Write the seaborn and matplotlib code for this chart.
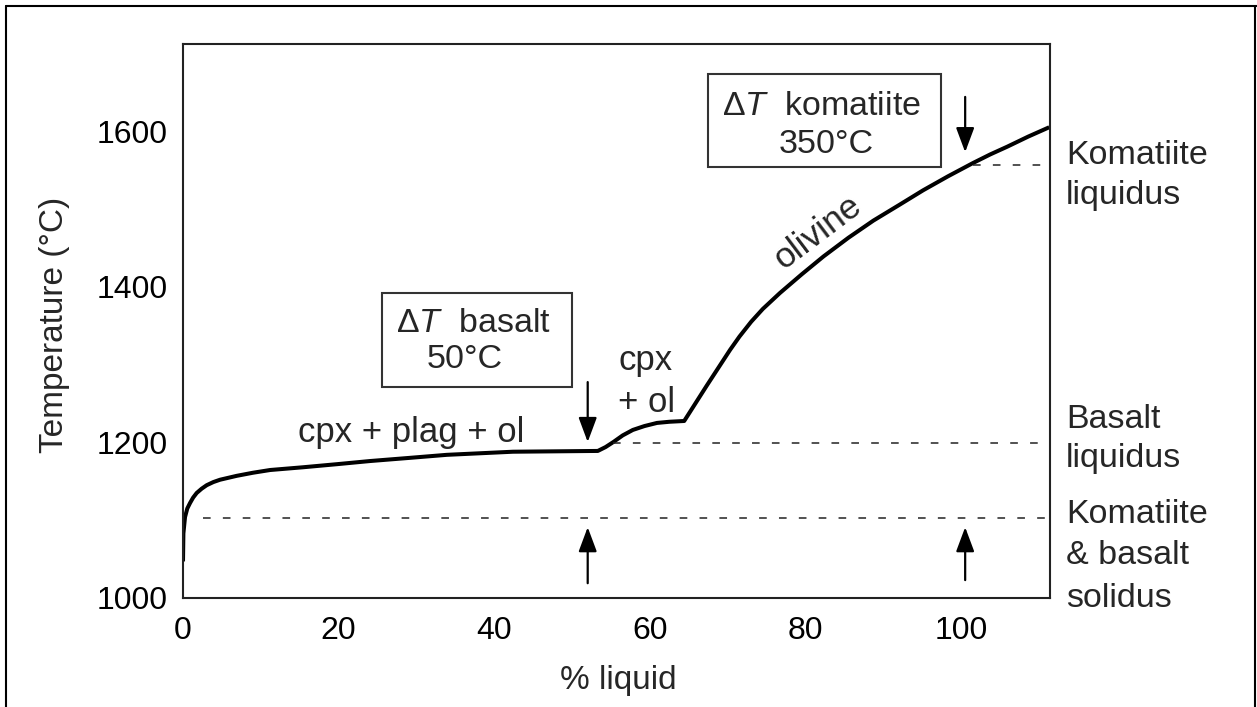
import matplotlib
matplotlib.use("Agg")
import matplotlib.pyplot as plt
import seaborn as sns
import pandas as pd
from matplotlib.patches import Rectangle
from matplotlib.lines import Line2D

# ---- data ----
liquid_pct = [0.0, 0.05, 0.26, 0.55, 0.9, 1.3, 1.76, 2.4, 3.05, 3.9, 4.76, 6.9, 9.0,
              11.2, 15.4, 19.8, 24.0, 29.0, 33.9, 42.4, 53.3, 54.3, 55.3, 56.5, 57.8,
              59.3, 60.9, 62.5, 64.4, 67.3, 70.3, 71.5, 73.0, 74.5, 76.7, 79.5, 82.3,
              85.5, 88.7, 92.0, 95.1, 98.3, 101.5, 103.7, 105.9, 108.6, 111.3]
temperature = [1047, 1083, 1104, 1115, 1122, 1129, 1135, 1140.5, 1145, 1149, 1152, 1157,
               1161, 1164.5, 1168, 1172, 1176, 1180, 1184, 1188, 1189, 1194, 1200.5, 1209,
               1216, 1221, 1225, 1226.5, 1227.5, 1273, 1319, 1336, 1355, 1371.5, 1392,
               1416, 1439, 1463, 1485, 1505, 1524, 1542, 1559, 1570, 1580, 1593, 1605]
reference_T = [1103, 1199, 1557]          # solidus, basalt liquidus, komatiite liquidus
reference_start = [2.6, 55.3, 101.5]      # % liquid where each dashed line starts
x_ticks = [0, 20, 40, 60, 80, 100]
y_ticks = [1000, 1200, 1400, 1600]
right_labels = [["Komatiite", "liquidus"], ["Basalt", "liquidus"],
                ["Komatiite", "& basalt", "solidus"]]

sns.set_theme(style="white")
plt.rcParams['font.family'] = ['Liberation Sans', 'DejaVu Sans']
plt.rcParams.update({'mathtext.fontset': 'custom',
                     'mathtext.rm': 'Liberation Sans',
                     'mathtext.it': 'Liberation Sans:italic',
                     'mathtext.bf': 'Liberation Sans:bold'})

W, H = 1257, 707
fig = plt.figure(figsize=(W / 100, H / 100), dpi=100)
fig.patch.set_facecolor('white')
ax = fig.add_axes([183 / W, 1 - 598 / H, 867 / W, 554 / H])

XMAX = 111.4
df = pd.DataFrame({'pct': liquid_pct, 'T': temperature})
sns.lineplot(data=df, x='pct', y='T', color='black', lw=2.9, ax=ax,
             solid_capstyle='butt', solid_joinstyle='round')

for T0, x0 in zip(reference_T, reference_start):
    ax.plot([x0, XMAX], [T0, T0], color='#222222', lw=1.1, dashes=(5, 8))

ax.set_xlim(0, XMAX)
ax.set_ylim(1000, 1712)
ax.set_xticks(x_ticks)
ax.set_yticks(y_ticks)
ax.tick_params(axis='both', direction='in', length=11, width=1.2, colors='black',
               labelsize=23)
ax.tick_params(axis='x', pad=13)
ax.tick_params(axis='y', pad=11)
for s in ax.spines.values():
    s.set_color('#222222')
    s.set_linewidth(1.5)

ax.set_xlabel('% liquid', fontsize=24)
ax.set_ylabel('Temperature (°C)', fontsize=24)
ax.xaxis.label.set_va('center')
ax.yaxis.label.set_va('center')
ax.xaxis.set_label_coords((618 - 183) / 867, (598 - 681) / 554)
ax.yaxis.set_label_coords((55 - 183) / 867, (598 - 325) / 554)

# arrows
arrow_kw = dict(arrowstyle='-|>,head_length=0.75,head_width=0.28', mutation_scale=20,
                lw=1.6, color='black', shrinkA=0, shrinkB=0)
ax.annotate('', xy=(52, 1200.5), xytext=(52, 1277.5), arrowprops=arrow_kw)
ax.annotate('', xy=(52, 1091), xytext=(52, 1019), arrowprops=arrow_kw)
ax.annotate('', xy=(100.5, 1573), xytext=(100.5, 1644), arrowprops=arrow_kw)
ax.annotate('', xy=(100.5, 1091), xytext=(100.5, 1023), arrowprops=arrow_kw)

# boxes
ax.add_patch(Rectangle((25.6, 1271.1), 24.4, 120.8, fill=False, lw=1.5,
                       edgecolor='#333333'))
ax.add_patch(Rectangle((67.5, 1553.8), 29.9, 119.5, fill=False, lw=1.5,
                       edgecolor='#333333'))
ax.text(37.3, 1341.8, r'$\Delta T$  basalt', fontsize=24.5, ha='center', va='baseline')
ax.text(36.2, 1295.6, '50°C', fontsize=24.5, ha='center', va='baseline')
ax.text(82.1, 1620.7, r'$\Delta T$  komatiite', fontsize=24.5, ha='center', va='baseline')
ax.text(82.6, 1571.8, '350°C', fontsize=24.5, ha='center', va='baseline')

# phase labels
ax.text(14.8, 1200.5, 'cpx + plag + ol', fontsize=25, ha='left', va='baseline')
ax.text(55.9, 1293, 'cpx', fontsize=25, ha='left', va='baseline')
ax.text(55.9, 1239, '+ ol', fontsize=25, ha='left', va='baseline')
ax.text(81.6, 1470, 'olivine', fontsize=25.5, ha='center', va='center',
        rotation=37, rotation_mode='anchor')

# right-hand labels
baselines_px = [[164, 204], [428, 467], [523, 564, 607]]
for lines, ys in zip(right_labels, baselines_px):
    for txt, ypx in zip(lines, ys):
        fig.text(1066 / W, 1 - ypx / H, txt, fontsize=24.5, ha='left', va='baseline')

# outer frame of the figure
fx = 5.5 / W
fy = 1 - 6 / H
fig.add_artist(Line2D([fx, fx], [0, fy], transform=fig.transFigure, color='black', lw=1.5))
fig.add_artist(Line2D([fx, 1], [fy, fy], transform=fig.transFigure, color='black', lw=1.5))
fig.add_artist(Line2D([1254.5 / W, 1254.5 / W], [0, fy], transform=fig.transFigure,
                      color='black', lw=1.5))

fig.savefig('out.png', dpi=100, facecolor='white')
